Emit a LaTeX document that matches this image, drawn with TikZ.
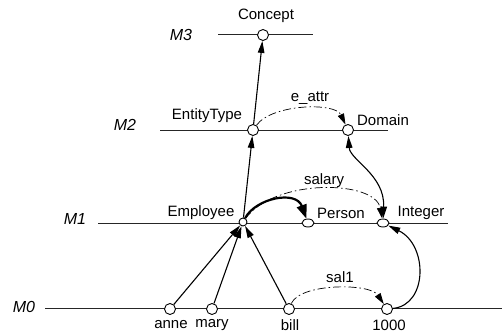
\documentclass[tikz,border=0pt]{standalone}
\usepackage{fontspec}
\setmainfont{Liberation Sans}
\usetikzlibrary{arrows.meta,shapes.geometric}
\begin{document}
\begin{tikzpicture}[x=1pt,y=-1pt,
  level/.style={line width=1pt,black!85},
  lvl/.style={font=\fontsize{16}{18}\selectfont\itshape},
  lbl/.style={font=\fontsize{15}{17}\selectfont},
  obj/.style={circle,draw,fill=white,line width=0.9pt,inner sep=0pt,minimum size=11pt},
  small/.style={circle,draw,fill=white,line width=0.9pt,inner sep=0pt,minimum size=8pt},
  oval/.style={ellipse,draw,fill=white,line width=0.9pt,inner sep=0pt,minimum width=12pt,minimum height=8pt},
  inst/.style={line width=1.1pt,-{Triangle[length=12pt,width=6.5pt]}},
  spec/.style={line width=2.2pt,-{Triangle[length=14pt,width=10pt]}},
  attr/.style={line width=0.7pt,dash pattern=on 8pt off 3pt on 1.5pt off 3pt,-{Triangle[length=11pt,width=6.5pt]}},
  dom/.style={line width=1.1pt,{Triangle[length=12pt,width=6.5pt]}-{Triangle[length=12pt,width=6.5pt]}}]
\useasboundingbox (0,0) rectangle (502,334);

% level lines
\coordinate (m3a) at (218,35);  \coordinate (m3b) at (313,35);
\coordinate (m2a) at (160,130); \coordinate (m2b) at (388,130);
\coordinate (m1a) at (98,223);  \coordinate (m1b) at (448,223);
\coordinate (m0a) at (45,308);  \coordinate (m0b) at (502,308);
\draw[level] (m3a) -- (m3b);
\draw[level] (m2a) -- (m2b);
\draw[level] (m1a) -- (m1b);
\draw[level] (m0a) -- (m0b);

\node[lvl] (l3) at (181,35) {M3};
\node[lvl] (l2) at (125,125) {M2};
\node[lvl] (l1) at (75,219) {M1};
\node[lvl] (l0) at (24,307) {M0};

% objects
\node[obj] (concept) at (263,35) {};
\node[obj] (etype) at (253,130) {};
\node[obj] (domain) at (348,130) {};
\node[small] (employee) at (243,222) {};
\node[oval] (person) at (308,223) {};
\node[oval] (integer) at (383,223) {};
\node[obj] (anne) at (170,309) {};
\node[obj] (mary) at (212,309) {};
\node[obj] (bill) at (289,309) {};
\node[obj] (v1000) at (387,309) {};

% labels
\node[lbl] (tconcept) at (266,16) {Concept};
\node[lbl] (tetype) at (207,116) {EntityType};
\node[lbl] (tdomain) at (383,120) {Domain};
\node[lbl] (temployee) at (201,213) {Employee};
\node[lbl] (tperson) at (341,213) {Person};
\node[lbl] (tinteger) at (421,213) {Integer};
\node[lbl] (tanne) at (171,325) {anne};
\node[lbl] (tmary) at (212,325) {mary};
\node[lbl] (tbill) at (290,325) {bill};
\node[lbl] (t1000) at (389,325) {1000};
\node[lbl] (teattr) at (310,98) {e\_attr};
\node[lbl] (tsalary) at (324,181) {salary};
\node[lbl] (tsal) at (340,277) {sal1};

% instance-of links
\draw[inst] (etype) -- (concept);
\draw[inst] (employee) -- (etype);
\draw[inst] (anne) -- (employee);
\draw[inst] (mary) -- (employee);
\draw[inst] (bill) -- (employee);

% specialisation
\draw[spec] (employee) .. controls (256,198) and (296,190) .. (person);

% attributes
\draw[attr] (etype) .. controls (272,104) and (335,102) .. (domain);
\draw[attr] (employee) .. controls (275,178) and (375,180) .. (integer);
\draw[attr] (bill) .. controls (300,283) and (370,283) .. (v1000);

% value links
\draw[dom] (domain) .. controls (350,160) and (385,175) .. (integer);
\draw[inst] (v1000) .. controls (428,305) and (428,245) .. (integer);
\end{tikzpicture}
\end{document}
